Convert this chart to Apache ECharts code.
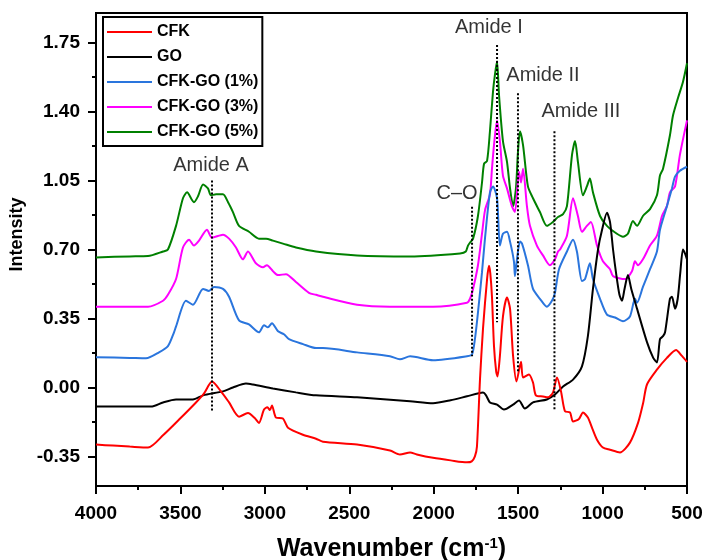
<!DOCTYPE html>
<html><head><meta charset="utf-8">
<script src="https://cdn.jsdelivr.net/npm/echarts@6/dist/echarts.min.js"></script>
<style>html,body{margin:0;padding:0;background:#fff}#c{width:706px;height:560px}</style>
</head><body><div id="c"></div>
<script>
// ---- data (wavenumber cm-1, intensity) ----
const seriesNames = ['CFK', 'GO', 'CFK-GO (1%)', 'CFK-GO (3%)', 'CFK-GO (5%)'];
const seriesColors = ['#ff0000', '#000000', '#2a75dd', '#ff00ff', '#008000'];

const cfk = [[4000,-0.29],[3900,-0.295],[3800,-0.30],[3692,-0.305],[3600,-0.24],[3508,-0.163],[3408,-0.076],[3360,-0.03],[3313,0.03],[3260,-0.02],[3212,-0.076],[3153,-0.148],[3100,-0.13],[3060,-0.155],[3035,-0.18],[3005,-0.112],[2985,-0.10],[2970,-0.115],[2958,-0.092],[2934,-0.153],[2893,-0.158],[2863,-0.204],[2774,-0.24],[2697,-0.26],[2656,-0.275],[2454,-0.29],[2259,-0.32],[2200,-0.34],[2140,-0.33],[2100,-0.34],[2004,-0.357],[1900,-0.37],[1803,-0.38],[1775,-0.375],[1756,-0.35],[1744,-0.30],[1726,0.04],[1708,0.30],[1684,0.55],[1673,0.617],[1665,0.58],[1655,0.46],[1643,0.21],[1630,0.08],[1622,0.056],[1608,0.16],[1590,0.36],[1566,0.457],[1548,0.40],[1530,0.16],[1510,0.03],[1483,0.13],[1471,0.05],[1436,0.066],[1412,0.025],[1395,-0.04],[1353,-0.046],[1323,-0.05],[1294,-0.026],[1270,0.05],[1246,-0.02],[1223,-0.12],[1193,-0.127],[1175,-0.173],[1140,-0.16],[1116,-0.127],[1087,-0.153],[1060,-0.21],[1033,-0.265],[998,-0.305],[956,-0.316],[897,-0.33],[838,-0.28],[790,-0.18],[760,-0.08],[737,0.015],[678,0.09],[619,0.15],[565,0.19],[530,0.16],[500,0.13]];

const go = [[4000,-0.097],[3800,-0.097],[3674,-0.097],[3603,-0.076],[3526,-0.061],[3426,-0.061],[3366,-0.04],[3248,-0.02],[3189,0.0],[3112,0.02],[3071,0.015],[2952,-0.005],[2816,-0.025],[2697,-0.04],[2454,-0.05],[2140,-0.07],[2004,-0.08],[1900,-0.065],[1803,-0.045],[1708,-0.026],[1690,-0.04],[1667,-0.076],[1625,-0.087],[1584,-0.112],[1530,-0.087],[1495,-0.066],[1460,-0.107],[1412,-0.076],[1330,-0.061],[1282,-0.036],[1234,0.005],[1175,0.04],[1122,0.107],[1087,0.26],[1057,0.50],[1027,0.70],[1003,0.80],[974,0.886],[956,0.84],[938,0.70],[920,0.58],[900,0.47],[885,0.44],[870,0.50],[850,0.57],[830,0.50],[796,0.40],[737,0.23],[700,0.15],[678,0.127],[660,0.245],[642,0.26],[630,0.28],[601,0.45],[589,0.46],[571,0.40],[555,0.45],[540,0.58],[524,0.70],[512,0.68],[500,0.65]];

const cfkGo1 = [[4000,0.153],[3800,0.15],[3704,0.148],[3627,0.178],[3574,0.21],[3538,0.28],[3526,0.31],[3467,0.44],[3426,0.42],[3366,0.50],[3331,0.49],[3301,0.51],[3248,0.50],[3212,0.46],[3153,0.34],[3094,0.32],[3035,0.28],[3005,0.316],[2982,0.305],[2958,0.326],[2922,0.285],[2887,0.27],[2857,0.245],[2774,0.22],[2697,0.20],[2656,0.20],[2454,0.178],[2259,0.158],[2200,0.143],[2140,0.158],[2004,0.138],[1803,0.158],[1773,0.168],[1756,0.245],[1738,0.38],[1714,0.585],[1696,0.76],[1667,0.99],[1649,1.02],[1625,0.96],[1608,0.72],[1590,0.78],[1566,0.79],[1548,0.74],[1525,0.64],[1519,0.565],[1507,0.65],[1489,0.74],[1477,0.73],[1442,0.62],[1412,0.50],[1371,0.45],[1330,0.41],[1300,0.44],[1282,0.48],[1258,0.60],[1211,0.69],[1175,0.75],[1152,0.69],[1122,0.54],[1104,0.55],[1075,0.63],[1057,0.55],[1015,0.45],[974,0.37],[926,0.355],[879,0.336],[838,0.36],[808,0.45],[796,0.43],[761,0.51],[719,0.60],[678,0.69],[660,0.80],[619,0.92],[589,1.01],[571,1.07],[542,1.10],[500,1.12]];

const cfkGo3 = [[4000,0.41],[3800,0.41],[3692,0.41],[3603,0.44],[3574,0.47],[3526,0.55],[3485,0.71],[3449,0.75],[3420,0.72],[3390,0.745],[3343,0.80],[3313,0.76],[3248,0.775],[3212,0.755],[3171,0.71],[3130,0.65],[3100,0.69],[3053,0.63],[3011,0.61],[2988,0.62],[2952,0.59],[2922,0.57],[2875,0.575],[2816,0.535],[2739,0.48],[2697,0.47],[2656,0.46],[2454,0.42],[2259,0.41],[2004,0.41],[1803,0.43],[1785,0.45],[1767,0.50],[1738,0.62],[1714,0.78],[1696,0.90],[1667,0.98],[1655,1.11],[1643,1.23],[1625,1.355],[1608,1.25],[1590,1.075],[1566,1.01],[1537,0.92],[1519,0.89],[1495,1.095],[1483,1.04],[1471,1.11],[1448,0.92],[1430,0.82],[1389,0.72],[1353,0.67],[1312,0.62],[1282,0.65],[1264,0.69],[1252,0.70],[1211,0.77],[1175,0.96],[1146,0.87],[1122,0.79],[1093,0.82],[1069,0.84],[1033,0.72],[998,0.64],[956,0.60],[938,0.565],[867,0.55],[826,0.59],[808,0.64],[790,0.62],[761,0.65],[719,0.72],[678,0.77],[648,0.87],[619,0.92],[601,0.99],[571,1.02],[542,1.18],[500,1.355]];

const cfkGo5 = [[4000,0.66],[3800,0.665],[3692,0.667],[3603,0.69],[3574,0.70],[3526,0.82],[3485,0.96],[3461,0.99],[3420,0.94],[3396,0.97],[3366,1.03],[3337,1.01],[3319,0.975],[3289,0.98],[3248,0.98],[3218,0.94],[3189,0.89],[3153,0.82],[3094,0.79],[3035,0.755],[2993,0.755],[2952,0.745],[2893,0.73],[2816,0.71],[2697,0.69],[2454,0.67],[2140,0.665],[1844,0.68],[1810,0.69],[1797,0.72],[1785,0.735],[1767,0.755],[1738,0.87],[1714,1.04],[1702,1.135],[1684,1.15],[1667,1.30],[1649,1.50],[1637,1.59],[1625,1.655],[1613,1.48],[1590,1.25],[1566,1.145],[1548,1.01],[1530,0.92],[1513,1.01],[1501,1.195],[1489,1.30],[1471,1.23],[1442,1.02],[1412,0.96],[1371,0.89],[1330,0.82],[1294,0.84],[1264,0.865],[1234,0.88],[1211,0.92],[1181,1.18],[1163,1.25],[1146,1.145],[1116,0.975],[1093,1.02],[1075,1.06],[1057,0.99],[1015,0.87],[974,0.82],[915,0.78],[879,0.765],[850,0.78],[820,0.845],[796,0.82],[761,0.87],[719,0.905],[678,0.975],[660,1.075],[642,1.11],[601,1.28],[583,1.38],[553,1.47],[524,1.55],[500,1.645]];

const seriesData = [cfk, go, cfkGo1, cfkGo3, cfkGo5];

// axis ticks
const yMajorTicks = [-0.35, 0, 0.35, 0.70, 1.05, 1.40, 1.75];
const yMinorTicks = [-0.175, 0.175, 0.525, 0.875, 1.225, 1.575];

// annotations: dotted marker lines and their labels
const markNames = ['Amide A', 'C\u2013O', 'Amide I', 'Amide II', 'Amide III'];
const markWn = [3313, 1773, 1625, 1501, 1285];
const markTop = [1.05, 0.917, 1.737, 1.493, 1.30];
const markBottom = [-0.127, 0.158, 0.331, 0.076, -0.112];
const labelWn = [3319, 1862, 1673, 1353, 1128];
const labelY = [1.124, 0.982, 1.826, 1.582, 1.399];

const FONT = '"Liberation Sans", Arial, sans-serif';

const chart = echarts.init(document.getElementById('c'), null, {renderer: 'canvas'});

const series = [];
seriesNames.forEach((n, i) => {
  series.push({
    name: n, type: 'line', data: seriesData[i], showSymbol: false, smooth: 0.25,
    lineStyle: {color: seriesColors[i], width: 2}, itemStyle: {color: seriesColors[i]},
    z: 2 + (seriesNames.length - i), animation: false
  });
});
markNames.forEach((n, i) => {
  series.push({
    name: 'mark_' + i, type: 'line', showSymbol: false, silent: true, animation: false,
    data: [[markWn[i], markTop[i]], [markWn[i], markBottom[i]]],
    lineStyle: {color: '#000', width: 2, type: [2, 2]}, z: 10
  });
});
series.push({
  name: 'labels', type: 'scatter', silent: true, animation: false, symbolSize: 1,
  itemStyle: {color: 'rgba(0,0,0,0)'},
  data: markNames.map((n, i) => ({value: [labelWn[i], labelY[i]], name: n})),
  label: {show: true, position: 'inside', formatter: p => p.name, color: '#000', textBorderWidth: 0, fontSize: 20, fontFamily: FONT}
});

chart.setOption({
  backgroundColor: '#fff',
  animation: false,
  grid: {left: 96, right: 19, top: 13, bottom: 74, show: true, borderColor: '#000', borderWidth: 2, backgroundColor: 'transparent', containLabel: false, outerBoundsMode: 'none'},
  legend: {
    data: seriesNames, orient: 'vertical', left: 103, top: 17,
    icon: 'rect', itemWidth: 45, itemHeight: 2, itemGap: 9,
    padding: [7, 4, 6, 4], borderColor: '#000', borderWidth: 2, backgroundColor: '#fff',
    textStyle: {fontFamily: FONT, fontWeight: 'bold', fontSize: 16, color: '#000'},
    selectedMode: false
  },
  xAxis: {
    type: 'value', min: 500, max: 4000, interval: 500, inverse: true,
    name: 'Wavenumber (cm{sup|-1})', nameLocation: 'middle', nameGap: 50,
    nameTextStyle: {fontFamily: FONT, fontWeight: 'bold', fontSize: 25, color: '#000',
      rich: {sup: {fontFamily: FONT, fontWeight: 'bold', fontSize: 15, color: '#000', verticalAlign: 'top', padding: [0, 0, 12, 0]}}},
    axisLine: {onZero: false, lineStyle: {color: '#000', width: 2}},
    axisTick: {length: 8, lineStyle: {color: '#000', width: 2}},
    minorTick: {show: true, splitNumber: 2, length: 4, lineStyle: {color: '#000', width: 2}},
    axisLabel: {margin: 18, formatter: v => String(v), fontFamily: FONT, fontWeight: 'bold', fontSize: 19, color: '#000', showMinLabel: true, showMaxLabel: true},
    splitLine: {show: false}
  },
  yAxis: [{
    type: 'value', min: -0.5, max: 1.9,
    name: 'Intensity', nameLocation: 'middle', nameGap: 60,
    nameTextStyle: {fontFamily: FONT, fontWeight: 'bold', fontSize: 18, color: '#000', padding: [0, 0, 0, 30]},
    axisLine: {onZero: false, lineStyle: {color: '#000', width: 2}},
    axisTick: {length: 8, customValues: yMajorTicks, lineStyle: {color: '#000', width: 2}},
    axisLabel: {margin: 16, customValues: yMajorTicks, formatter: v => v.toFixed(2), fontFamily: FONT, fontWeight: 'bold', fontSize: 19, color: '#000'},
    splitLine: {show: false}
  }, {
    type: 'value', min: -0.5, max: 1.9, position: 'left',
    axisLine: {show: false, onZero: false},
    axisTick: {show: true, length: 4, customValues: yMinorTicks, lineStyle: {color: '#000', width: 2}},
    axisLabel: {show: false}, splitLine: {show: false}
  }],
  series: series
});
</script></body></html>
